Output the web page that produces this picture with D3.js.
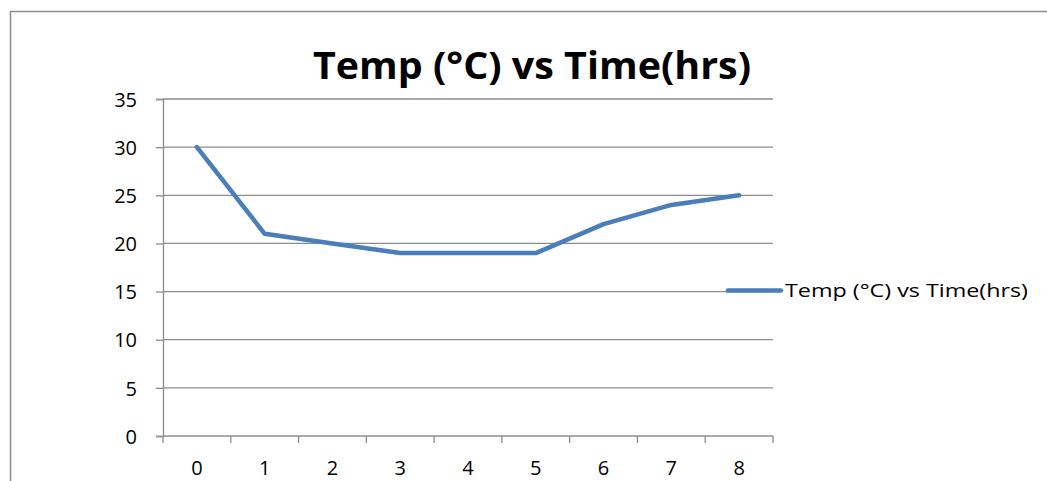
<!DOCTYPE html>
<html>
<head>
<meta charset="utf-8">
<script src="https://cdn.jsdelivr.net/npm/d3@7"></script>
<style>
  body { margin: 0; background: #fff; }
  text { font-family: "Open Sans", "Liberation Sans", sans-serif; fill: #000; }
</style>
</head>
<body>
<svg width="1047" height="481"></svg>
<script>
let hours = [0, 1, 2, 3, 4, 5, 6, 7, 8];
let temps = [30, 21, 20, 19, 19, 19, 22, 24, 25];
let yTicks = [0, 5, 10, 15, 20, 25, 30, 35];
let title = "Temp (°C) vs Time(hrs)";
let seriesName = "Temp (°C) vs Time(hrs)";

let svg = d3.select("svg");

// chart frame (runs off the bottom/right of the picture)
svg.append("rect")
  .attr("x", 10.5).attr("y", 11.5)
  .attr("width", 1060).attr("height", 500)
  .attr("fill", "none")
  .attr("stroke", "#8c8c8c")
  .attr("stroke-width", 1.5);

let plotLeft = 163, plotRight = 773, plotTop = 99, plotBottom = 436;

let xScale = d3.scaleBand()
  .domain(hours)
  .range([plotLeft, plotRight]);

let yScale = d3.scaleLinear()
  .domain([0, 35])
  .range([plotBottom, plotTop]);

// gridlines
svg.append("g")
  .selectAll("line")
  .data(yTicks.filter(d => d > 0))
  .enter()
  .append("line")
  .attr("x1", plotLeft)
  .attr("x2", plotRight)
  .attr("y1", d => yScale(d))
  .attr("y2", d => yScale(d))
  .attr("stroke", "#8c8c8c")
  .attr("stroke-width", 1.3);

// y axis
let yAxis = svg.append("g")
  .attr("transform", "translate(" + plotLeft + ",0)")
  .call(d3.axisLeft(yScale).tickValues(yTicks).tickSize(7).tickPadding(19));
yAxis.attr("font-size", null).attr("font-family", null);
yAxis.select(".domain").attr("stroke", "#8c8c8c").attr("stroke-width", 1.3);
yAxis.selectAll(".tick line").attr("stroke", "#8c8c8c").attr("stroke-width", 1.3);
yAxis.selectAll(".tick text")
  .style("font-size", "20px")
  .attr("dy", "0.36em")
  .attr("fill", "#000");

// x axis: ticks on band edges, labels in the middle
let xAxis = svg.append("g")
  .attr("transform", "translate(0," + plotBottom + ")");
xAxis.append("line")
  .attr("x1", plotLeft).attr("x2", plotRight)
  .attr("stroke", "#8c8c8c").attr("stroke-width", 1.3);
let edges = hours.map(d => xScale(d)).concat([xScale(hours[hours.length - 1]) + xScale.bandwidth()]);
xAxis.selectAll(".edge")
  .data(edges)
  .enter()
  .append("line")
  .attr("class", "edge")
  .attr("x1", d => d).attr("x2", d => d)
  .attr("y1", 0).attr("y2", 7)
  .attr("stroke", "#8c8c8c").attr("stroke-width", 1.3);
xAxis.selectAll("text")
  .data(hours)
  .enter()
  .append("text")
  .attr("x", d => xScale(d) + xScale.bandwidth() / 2)
  .attr("y", 39)
  .attr("text-anchor", "middle")
  .style("font-size", "20px")
  .text(d => d);

// the series
let line = d3.line()
  .x((d, i) => xScale(hours[i]) + xScale.bandwidth() / 2)
  .y(d => yScale(d));

svg.append("path")
  .datum(temps)
  .attr("d", line)
  .attr("fill", "none")
  .attr("stroke", "#4a7ebb")
  .attr("stroke-width", 4.5)
  .attr("stroke-linejoin", "round")
  .attr("stroke-linecap", "round");

// title
svg.append("text")
  .attr("x", 532)
  .attr("y", 79)
  .attr("text-anchor", "middle")
  .style("font-size", "38px")
  .style("font-weight", "bold")
  .attr("textLength", 438)
  .attr("lengthAdjust", "spacingAndGlyphs")
  .text(title);

// legend
let legend = svg.append("g");
legend.append("line")
  .attr("x1", 728).attr("x2", 781)
  .attr("y1", 290.5).attr("y2", 290.5)
  .attr("stroke", "#4a7ebb")
  .attr("stroke-width", 4.5)
  .attr("stroke-linecap", "round");
legend.append("text")
  .attr("x", 785)
  .attr("y", 297)
  .style("font-size", "19px")
  .attr("textLength", 243)
  .attr("lengthAdjust", "spacingAndGlyphs")
  .text(seriesName);
</script>
</body>
</html>
